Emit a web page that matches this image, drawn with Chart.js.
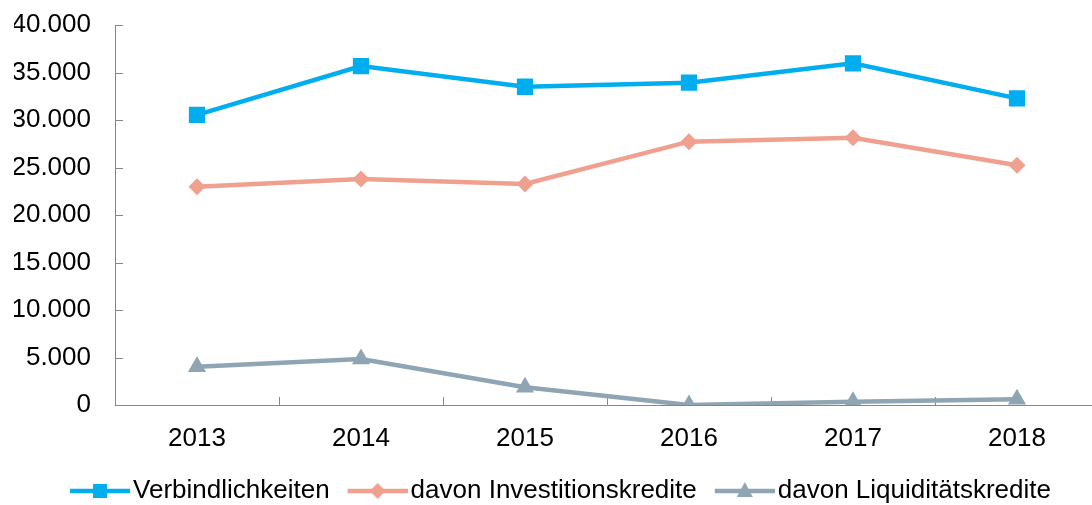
<!DOCTYPE html>
<html><head><meta charset="utf-8">
<script src="https://cdn.jsdelivr.net/npm/chart.js@4.4.1/dist/chart.umd.min.js"></script>
<style>
html,body{margin:0;padding:0;overflow:hidden;background:#fff;width:1092px;height:505px}
#wrap{width:1100px;height:514px;position:relative}
</style></head>
<body><div id="wrap"><canvas id="c"></canvas></div>
<script>
const categories = ['2013', '2014', '2015', '2016', '2017', '2018'];
const verbindlichkeiten = [30530, 35680, 33500, 33930, 35960, 32280];
const investitionskredite = [22980, 23790, 23260, 27720, 28140, 25230];
const liquiditaetskredite = [4030, 4830, 1860, 0, 350, 600];
const seriesNames = ['Verbindlichkeiten', 'davon Investitionskredite', 'davon Liquiditätskredite'];
const seriesColors = ['#00AEEF', '#F0A08F', '#8FA5B4'];
const yMin = 0, yMax = 40000, yStep = 5000;

const FONT = {family: '"Liberation Sans", Arial, sans-serif', size: 26};
const AXIS = '#868686';

function fmt(v) { return String(v).replace(/\B(?=(\d{3})+(?!\d))/g, '.'); }

function legendIcon(color, style) {
  const c = document.createElement('canvas');
  c.width = 78; c.height = 24;
  const g = c.getContext('2d');
  g.strokeStyle = color; g.lineWidth = 4.5;
  g.beginPath(); g.moveTo(18, 12); g.lineTo(78, 12); g.stroke();
  g.fillStyle = color;
  const cx = 48, cy = 12;
  g.beginPath();
  if (style === 'rect') { g.rect(cx - 7, cy - 7, 14, 14); }
  else if (style === 'rectRot') { g.moveTo(cx - 8, cy); g.lineTo(cx, cy - 8); g.lineTo(cx + 8, cy); g.lineTo(cx, cy + 8); g.closePath(); }
  else { g.moveTo(cx, cy - 9); g.lineTo(cx + 8, cy + 6); g.lineTo(cx - 8, cy + 6); g.closePath(); }
  g.fill();
  return c;
}
const styles = ['rect', 'rectRot', 'triangle'];
const radii = [11.5, 8.5, 10.5];
const icons = seriesColors.map((c, i) => legendIcon(c, styles[i]));

const innerTicks = {
  id: 'innerTicks',
  beforeDatasetsDraw(chart) {
    const {ctx, chartArea: a, scales: {x, y}} = chart;
    ctx.save();
    ctx.strokeStyle = AXIS; ctx.lineWidth = 1;
    ctx.beginPath();
    y.ticks.forEach(t => {
      const py = Math.round(y.getPixelForValue(t.value)) + 0.5;
      ctx.moveTo(a.left, py); ctx.lineTo(a.left + 8, py);
    });
    for (let i = 1; i < categories.length; i++) {
      const px = Math.round((x.getPixelForValue(i - 1) + x.getPixelForValue(i)) / 2) + 0.5;
      ctx.moveTo(px, a.bottom); ctx.lineTo(px, a.bottom - 8);
    }
    ctx.stroke();
    ctx.restore();
  }
};

const seriesData = [verbindlichkeiten, investitionskredite, liquiditaetskredite];
new Chart(document.getElementById('c'), {
  type: 'line',
  data: {
    labels: categories,
    datasets: seriesData.map((d, i) => ({
      label: seriesNames[i],
      data: d,
      borderColor: seriesColors[i],
      backgroundColor: seriesColors[i],
      pointBackgroundColor: seriesColors[i],
      pointBorderColor: seriesColors[i],
      pointBorderWidth: 0,
      pointStyle: styles[i],
      pointRadius: radii[i],
      borderWidth: 4.5,
      tension: 0,
      fill: false
    }))
  },
  options: {
    responsive: true,
    maintainAspectRatio: false,
    animation: false,
    layout: {autoPadding: false, padding: {left: 14, right: 1, top: 25, bottom: 0}},
    plugins: {
      tooltip: {enabled: false},
      legend: {
        position: 'bottom',
        labels: {
          usePointStyle: true,
          pointStyleWidth: 58,
          boxHeight: 24,
          padding: 10,
          color: '#000',
          font: FONT,
          generateLabels(chart) {
            return chart.data.datasets.map((ds, i) => ({
              text: ds.label, pointStyle: icons[i], fillStyle: ds.borderColor,
              strokeStyle: ds.borderColor, lineWidth: 0, hidden: false, datasetIndex: i, fontColor: '#000'
            }));
          }
        }
      }
    },
    scales: {
      x: {
        offset: true,
        grid: {display: false, offset: true},
        border: {display: true, color: AXIS, width: 1},
        ticks: {color: '#000', font: FONT, padding: 10, maxRotation: 0},
        afterFit(scale) { scale.height = 63; }
      },
      y: {
        min: yMin, max: yMax,
        grid: {display: true, drawOnChartArea: false, drawTicks: true, tickLength: 24, tickColor: 'rgba(0,0,0,0)'},
        border: {display: true, color: AXIS, width: 1},
        ticks: {stepSize: yStep, color: '#000', font: FONT, padding: 0, callback: v => fmt(v)},
        afterFit(scale) { scale.width = 101; }
      }
    }
  },
  plugins: [innerTicks]
});
</script>
</body></html>
